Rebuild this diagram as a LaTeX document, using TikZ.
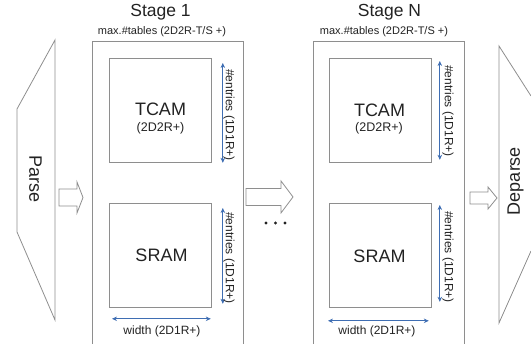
\documentclass[tikz,border=0pt]{standalone}
\usepackage{fontspec}
\setmainfont{Liberation Sans}
\usetikzlibrary{arrows.meta}
\definecolor{dimblue}{HTML}{3F6EB3}
\definecolor{linegray}{HTML}{8E8E8E}
\definecolor{inkgray}{HTML}{222222}

\begin{document}
\begin{tikzpicture}
[
    x=1pt, y=-1pt,
    every node/.style={inner sep=0pt, text=inkgray},
    frame/.style={draw=linegray, line width=0.8pt},
    stagebox/.style={frame, anchor=north west, minimum width=151pt, minimum height=330pt},
    membox/.style={frame, anchor=north west, minimum width=102pt, minimum height=104pt},
    dimline/.style={draw=dimblue, line width=0.7pt, {Stealth[length=5pt,width=4.5pt]}-{Stealth[length=5pt,width=4.5pt]}},
    title/.style={anchor=base, font=\fontsize{17.5}{20}\selectfont},
    bigtxt/.style={anchor=base, font=\fontsize{18}{20}\selectfont},
    midtxt/.style={anchor=base, font=\fontsize{12.5}{14}\selectfont},
    smalltxt/.style={anchor=base, font=\fontsize{11}{13}\selectfont},
    sidetxt/.style={rotate=-90, font=\fontsize{12}{14}\selectfont},
]
\useasboundingbox (0,0) rectangle (531,344);
\clip (0,0) rectangle (531,344);

\draw[frame] (55,40) -- (55,320) -- (17,232) -- (17,109) -- cycle;
\node[rotate=-90, font=\fontsize{18}{20}\selectfont] (parse) at (35.5,179) {Parse};
\draw[frame] (59,189) -- (77,189) -- (77,182) -- (83,197.5) -- (77,213) -- (77,206) -- (59,206) -- cycle;

\node[stagebox] (stage1) at (92,41) {};
\node[title] (title1) at (160.5,17) {Stage 1};
\node[smalltxt] (tables1) at (162,35) {max.\#tables (2D2R-T/S +)};
\node[membox] (tcam1) at (109,58) {};
\node[membox] (sram1) at (109,203) {};
\node[bigtxt] (tcamtxt1) at (160.5,116) {TCAM};
\node[midtxt] (tcamdim1) at (160.5,132) {(2D2R+)};
\node[bigtxt] (sramtxt1) at (161.5,262) {SRAM};
\draw[dimline] ([xshift=11pt,yshift=-5pt]tcam1.north east) -- ([xshift=11pt]tcam1.south east);
\draw[dimline] ([xshift=11pt,yshift=-5pt]sram1.north east) -- ([xshift=11pt,yshift=4pt]sram1.south east);
\node[sidetxt] (entries1a) at (229,115) {\#entries (1D1R+)};
\node[sidetxt] (entries1b) at (229,258) {\#entries (1D1R+)};
\draw[dimline] ([xshift=3pt,yshift=-11pt]sram1.south west) -- ([xshift=-1pt,yshift=-11pt]sram1.south east);
\node[midtxt, font=\fontsize{12}{14}\selectfont] (width1) at (162,335) {width (2D1R+)};

\draw[frame] (246,188.5) -- (281,188.5) -- (281,181) -- (293,197) -- (281,213) -- (281,205.5) -- (246,205.5) -- cycle;
\foreach \dx in {266,275.5,285}
    \fill[inkgray] (\dx,223) circle (1.7);

\node[stagebox] (stageN) at (313,41) {};
\node[title] (titleN) at (389.5,17) {Stage N};
\node[smalltxt] (tablesN) at (384,35) {max.\#tables (2D2R-T/S +)};
\node[membox] (tcamN) at (329,58) {};
\node[membox] (sramN) at (329,203) {};
\node[bigtxt] (tcamtxtN) at (379.5,117) {TCAM};
\node[midtxt] (tcamdimN) at (379,132) {(2D2R+)};
\node[bigtxt] (sramtxtN) at (379.5,263) {SRAM};
\draw[dimline] ([xshift=8pt,yshift=-3pt]tcamN.north east) -- ([xshift=8pt,yshift=3pt]tcamN.south east);
\draw[dimline] ([xshift=8pt,yshift=-2pt]sramN.north east) -- ([xshift=8pt,yshift=6pt]sramN.south east);
\node[sidetxt] (entriesNa) at (448,111) {\#entries (1D1R+)};
\node[sidetxt] (entriesNb) at (448,257) {\#entries (1D1R+)};
\draw[dimline] ([xshift=-1pt,yshift=-13pt]sramN.south west) -- ([xshift=-3pt,yshift=-13pt]sramN.south east);
\node[midtxt, font=\fontsize{12}{14}\selectfont] (widthN) at (377,335) {width (2D1R+)};

\draw[frame] (470,192) -- (488,192) -- (488,187) -- (497,198) -- (488,209) -- (488,204) -- (470,204) -- cycle;
\draw[frame] (531,96) -- (499,46) -- (499,323) -- (531,251);
\node[rotate=90, font=\fontsize{18}{20}\selectfont] (deparse) at (515.5,181) {Deparse};
\end{tikzpicture}
\end{document}
